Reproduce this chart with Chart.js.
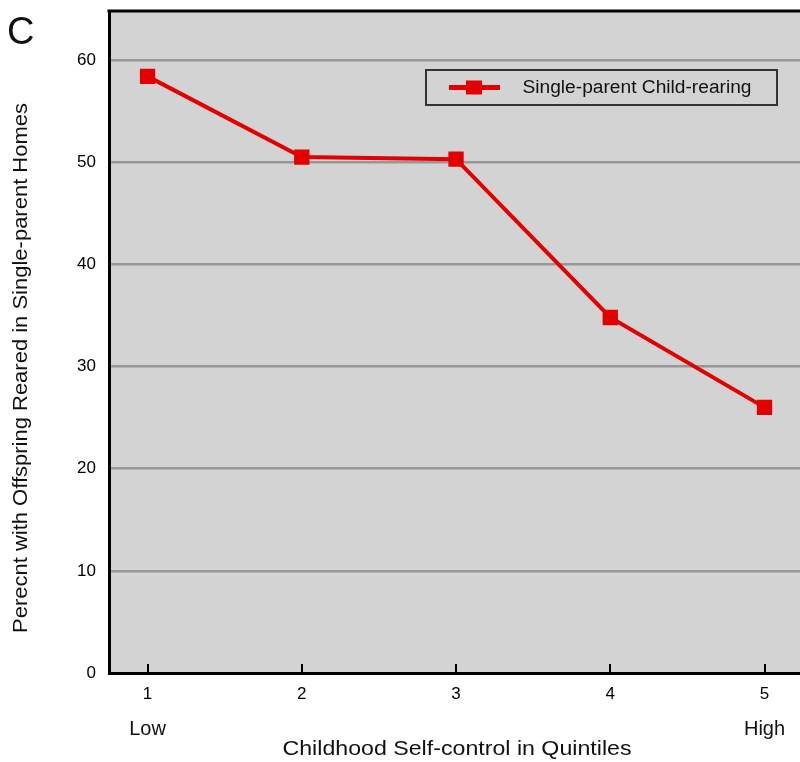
<!DOCTYPE html>
<html>
<head>
<meta charset="utf-8">
<script src="https://cdn.jsdelivr.net/npm/chart.js@4"></script>
<style>
html,body{margin:0;padding:0;background:#fff;}
#wrap{width:800px;height:762px;position:relative;overflow:hidden;}
</style>
</head>
<body>
<div id="wrap"><canvas id="c" width="800" height="762"></canvas></div>
<script>
// ===== data =====
const QUINTILES = [1, 2, 3, 4, 5];
const SINGLE_PARENT = [58.4, 50.5, 50.3, 34.8, 26.0];
const Y_TICKS = [0, 10, 20, 30, 40, 50, 60];
const SERIES_LABEL = 'Single-parent Child-rearing';
const END_LABELS = {1: 'Low', 5: 'High'};

const RED = '#e30000', FONT = "'Liberation Sans', Arial, sans-serif";

// draw text squeezed/stretched to a given width
function fitText(ctx, txt, cx, cy, w) {
  const m = ctx.measureText(txt).width;
  ctx.save(); ctx.translate(cx, cy); ctx.scale(w / m, 1);
  ctx.fillText(txt, 0, 0); ctx.restore();
}

// extras: panel letter, top border, inner ticks, low/high, y title, legend box
const extras = {
  id: 'extras',
  beforeDatasetsDraw(chart) {
    const {ctx, chartArea: a, scales: {x}} = chart;
    ctx.save();
    ctx.strokeStyle = '#000'; ctx.lineWidth = 3;
    ctx.beginPath(); ctx.moveTo(a.left - 1.5, a.top); ctx.lineTo(a.right, a.top); ctx.stroke();
    ctx.lineWidth = 2;
    QUINTILES.forEach(q => {
      const px = Math.round(x.getPixelForValue(q));
      ctx.beginPath(); ctx.moveTo(px, a.bottom); ctx.lineTo(px, a.bottom - 9); ctx.stroke();
    });
    ctx.restore();
  },
  afterDraw(chart) {
    const {ctx, scales: {x}} = chart;
    ctx.save();
    ctx.fillStyle = '#111';
    ctx.font = '38px ' + FONT; ctx.textBaseline = 'alphabetic'; ctx.textAlign = 'left';
    ctx.fillText('C', 7, 44);
    ctx.font = '20px ' + FONT; ctx.textAlign = 'center'; ctx.textBaseline = 'middle';
    Object.keys(END_LABELS).forEach(k => ctx.fillText(END_LABELS[k], x.getPixelForValue(+k), 729));
    ctx.font = '21px ' + FONT;
    fitText(ctx, 'Childhood Self-control in Quintiles', 457, 749, 349);
    ctx.save();
    ctx.translate(21, 368); ctx.rotate(-Math.PI / 2);
    fitText(ctx, 'Perecnt with Offspring Reared in Single-parent Homes', 0, 0, 530);
    ctx.restore();
    // legend
    const lx = 426, ly = 70, lw = 351, lh = 35;
    ctx.fillStyle = '#d3d3d3'; ctx.fillRect(lx, ly, lw, lh);
    ctx.strokeStyle = '#333'; ctx.lineWidth = 2; ctx.strokeRect(lx, ly, lw, lh);
    ctx.strokeStyle = RED; ctx.lineWidth = 5;
    ctx.beginPath(); ctx.moveTo(449, ly + lh / 2); ctx.lineTo(500, ly + lh / 2); ctx.stroke();
    ctx.fillStyle = RED; ctx.fillRect(466, ly + lh / 2 - 7, 16, 14);
    ctx.fillStyle = '#111'; ctx.font = '18px ' + FONT;
    fitText(ctx, SERIES_LABEL, 637, ly + lh / 2 + 1, 229);
    ctx.restore();
  }
};

const bg = {
  id: 'bg',
  beforeDraw(chart) {
    const {ctx, chartArea: a} = chart;
    ctx.save(); ctx.fillStyle = '#d3d3d3';
    ctx.fillRect(a.left, a.top, a.right - a.left, a.bottom - a.top);
    ctx.restore();
  }
};

new Chart(document.getElementById('c'), {
  type: 'line',
  data: {
    datasets: [{
      label: SERIES_LABEL,
      data: QUINTILES.map((q, i) => ({x: q, y: SINGLE_PARENT[i]})),
      borderColor: RED, backgroundColor: RED, borderWidth: 4,
      pointStyle: 'rect', pointRadius: 8, pointHoverRadius: 8, tension: 0
    }]
  },
  options: {
    responsive: false, animation: false,
    layout: {autoPadding: false, padding: {top: 11, right: 0, left: 0, bottom: 0}},
    plugins: {legend: {display: false}, tooltip: {enabled: false}},
    scales: {
      x: {
        type: 'linear', min: 0.75, max: 5.23,
        afterFit: s => { s.height = 89; s.paddingLeft = 0; s.paddingRight = 0; },
        afterBuildTicks: s => { s.ticks = QUINTILES.map(v => ({value: v})); },
        grid: {display: false},
        border: {color: '#000', width: 3},
        ticks: {color: '#000', font: {family: FONT, size: 17}, padding: 3, maxRotation: 0}
      },
      y: {
        min: 0, max: 64.8,
        afterFit: s => { s.width = 109; s.paddingTop = 0; s.paddingBottom = 0; },
        afterBuildTicks: s => { s.ticks = Y_TICKS.map(v => ({value: v})); },
        grid: {color: '#979797', lineWidth: 2.5, drawTicks: false},
        border: {color: '#000', width: 3},
        ticks: {color: '#000', font: {family: FONT, size: 17}, padding: 13}
      }
    }
  },
  plugins: [bg, extras]
});
</script>
</body>
</html>
